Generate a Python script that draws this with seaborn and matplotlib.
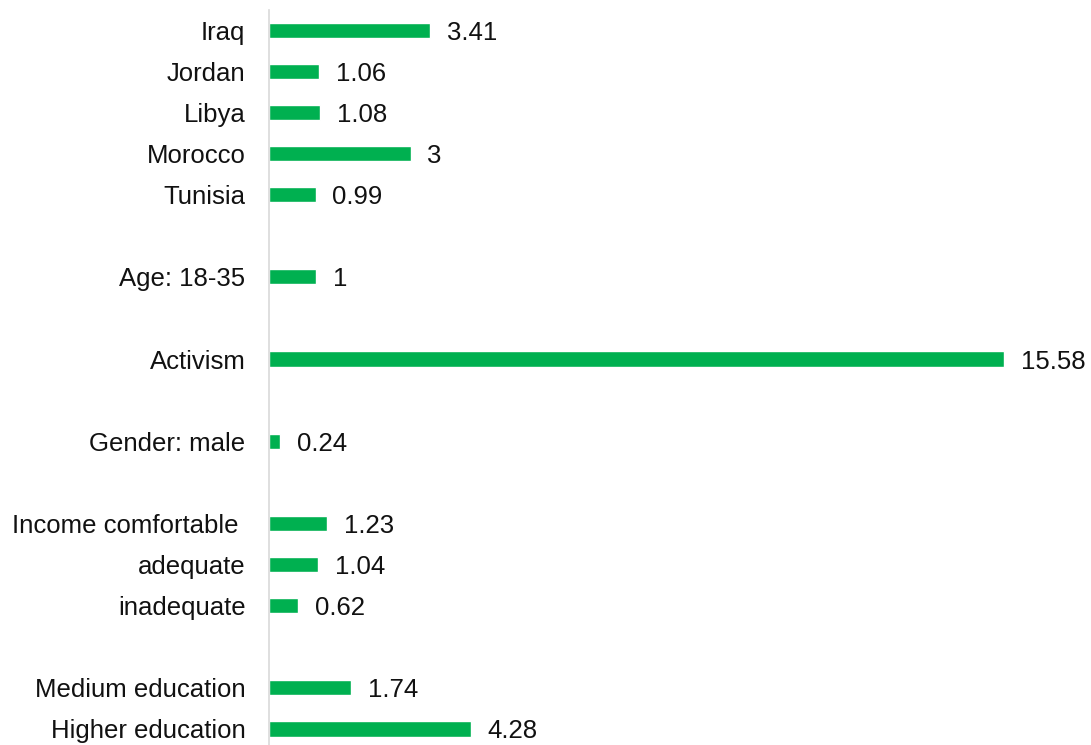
import matplotlib
matplotlib.use("Agg")
import matplotlib.pyplot as plt
import pandas as pd
import seaborn as sns

# categories and their values
labels = ["Iraq", "Jordan", "Libya", "Morocco", "Tunisia",
          "Age: 18-35", "Activism", "Gender: male",
          "Income comfortable ", "adequate", "inadequate",
          "Medium education", "Higher education"]
values = [3.41, 1.06, 1.08, 3, 0.99,
          1, 15.58, 0.24,
          1.23, 1.04, 0.62,
          1.74, 4.28]

# row order, with empty rows between the groups
order = ["Iraq", "Jordan", "Libya", "Morocco", "Tunisia", " ",
         "Age: 18-35", "  ",
         "Activism", "   ",
         "Gender: male", "    ",
         "Income comfortable ", "adequate", "inadequate", "     ",
         "Medium education", "Higher education"]

df = pd.DataFrame({"label": labels, "value": values})

sns.set_style("white")
plt.rcParams["font.family"] = ["Liberation Sans", "DejaVu Sans"]

fig = plt.figure(figsize=(10.91, 7.45), dpi=100)
ax = fig.add_axes([269 / 1091, -0.006, 0.735, 0.993])

sns.barplot(data=df, x="value", y="label", order=order, orient="h",
            color="#00B050", saturation=1, width=0.37, ax=ax)

texts = ax.bar_label(ax.containers[0], fmt="{:g}", padding=12, fontsize=18.5,
                     color="#111111")
for t in texts:
    t.set_verticalalignment("center_baseline")

ax.set_xlim(0, 17)
ax.set_ylim(17.5, -0.5)
ax.set_xlabel("")
ax.set_ylabel("")
ax.set_xticks([])
ax.tick_params(axis="y", length=0, pad=17, labelsize=18.5, labelcolor="#111111")

for side in ["top", "right", "bottom"]:
    ax.spines[side].set_visible(False)
ax.spines["left"].set_color("#D9D9D9")
ax.spines["left"].set_linewidth(1.2)

fig.savefig("out.png", dpi=100)
